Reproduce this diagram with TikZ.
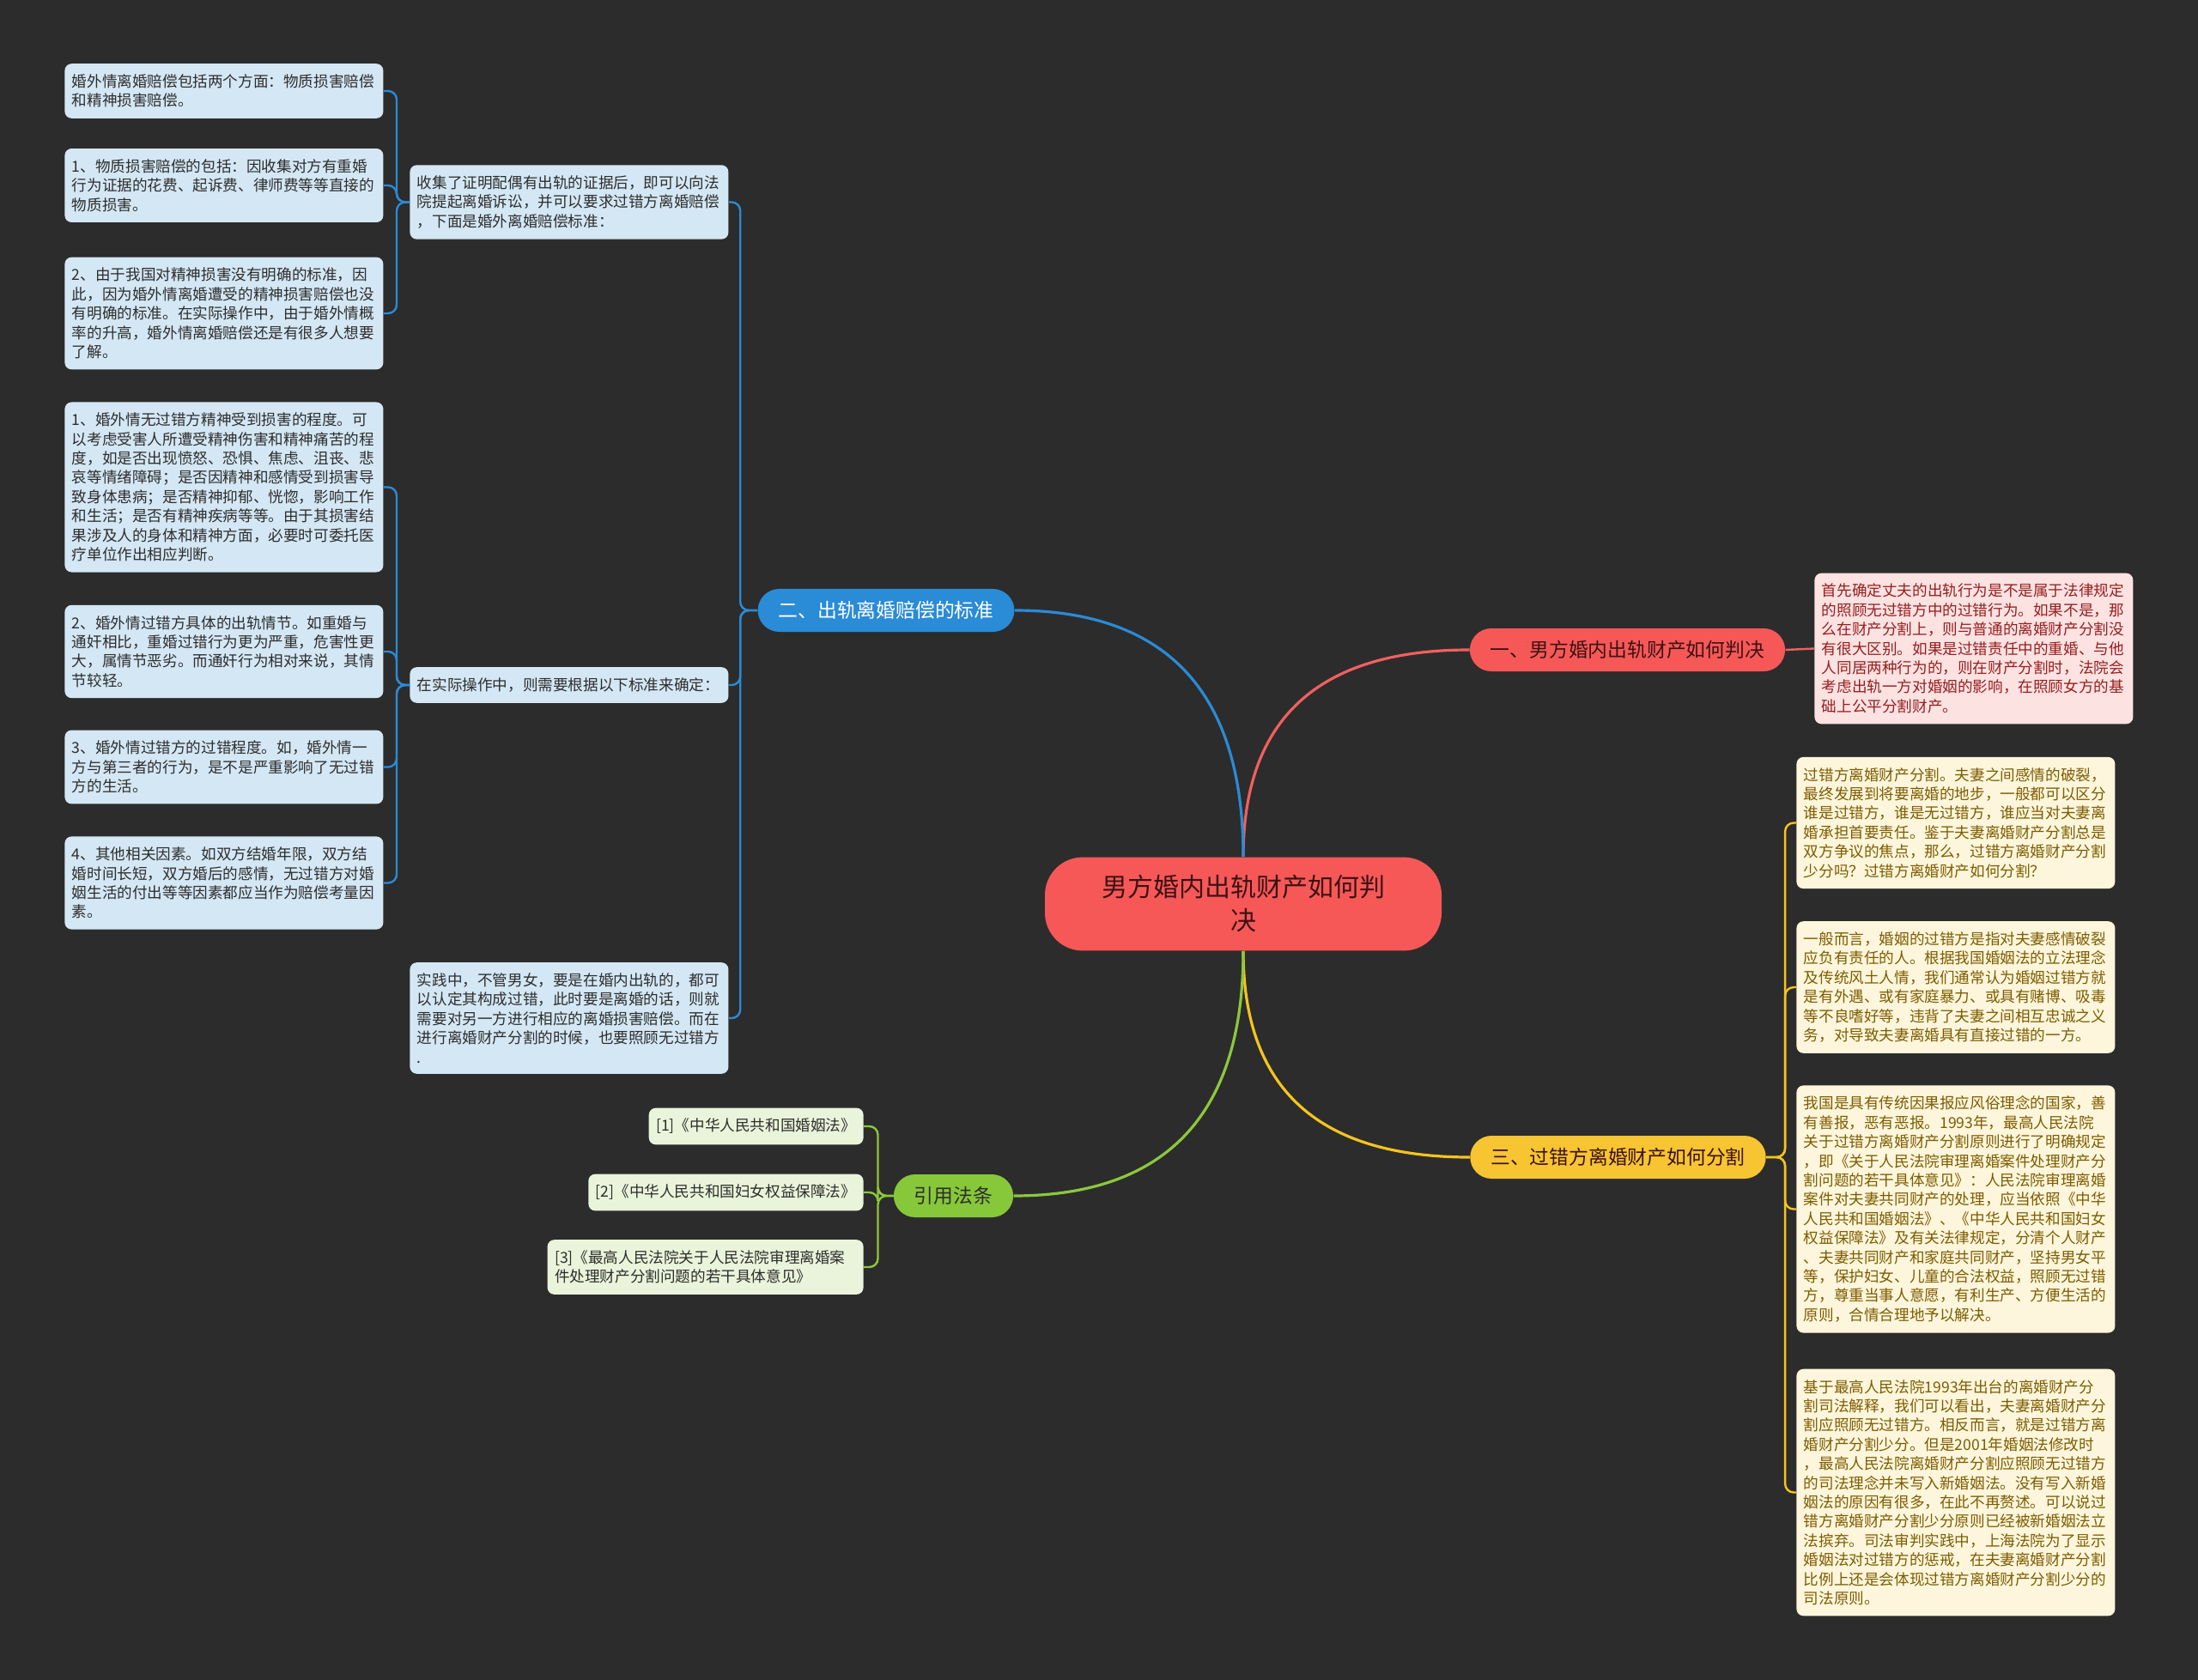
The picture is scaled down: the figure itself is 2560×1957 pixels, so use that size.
\documentclass[tikz,border=0pt]{standalone}
\usepackage{fontspec}
\setmainfont{Noto Sans CJK SC}
\usetikzlibrary{calc}
\definecolor{bgdark}{RGB}{44,44,44}
\definecolor{rootred}{RGB}{246,88,88}
\definecolor{roottext}{RGB}{60,18,18}
\definecolor{topicblue}{RGB}{42,139,214}
\definecolor{topicyellow}{RGB}{247,196,50}
\definecolor{topicgreen}{RGB}{134,200,58}
\definecolor{lineblue}{RGB}{42,139,214}
\definecolor{linered}{RGB}{240,96,96}
\definecolor{lineyellow}{RGB}{245,196,30}
\definecolor{linegreen}{RGB}{140,200,60}
\definecolor{fillblue}{RGB}{212,231,244}
\definecolor{fillred}{RGB}{253,226,226}
\definecolor{fillyellow}{RGB}{253,246,220}
\definecolor{fillgreen}{RGB}{234,244,218}
\definecolor{textdark}{RGB}{45,45,45}
\definecolor{textred}{RGB}{150,30,30}
\definecolor{textolive}{RGB}{125,92,0}

\begin{document}
\begin{tikzpicture}[x=0.5pt,y=-0.5pt,
  leafbase/.style={rounded corners=4pt,inner xsep=4.25pt,inner ysep=6.2pt,text width=177pt,align=left,font=\fontsize{8.8pt}{11.2pt}\selectfont},
  bluebox/.style={leafbase,fill=fillblue,text=textdark,anchor=west},
  redbox/.style={leafbase,fill=fillred,text=textred,anchor=west},
  yellowbox/.style={leafbase,fill=fillyellow,text=textolive,anchor=west},
  greenbox/.style={leafbase,text width=,fill=fillgreen,text=textdark,anchor=east},
  topicbox/.style={rounded corners=12.5pt,minimum height=25pt,inner xsep=12pt,inner ysep=2pt,font=\fontsize{11.4pt}{13pt}\selectfont},
  conn/.style={line width=1.6pt},
  subconn/.style={line width=1.2pt,rounded corners=5pt}]
\fill[bgdark] (0,0) rectangle (2560,1957);
\useasboundingbox (0,0) rectangle (2560,1957);

% root and main topics
\node[fill=rootred,text=roottext,rounded corners=22pt,text width=166pt,align=center,inner xsep=32.5pt,inner ysep=10.5pt,font=\fontsize{15pt}{19.5pt}\selectfont] (root) at (1448,1053) {男方婚内出轨财产如何判\\决};
\node[topicbox,fill=rootred,text=roottext] (topic1) at (1895.5,757) {一、男方婚内出轨财产如何判决};
\node[topicbox,fill=topicblue,text=white] (topic2) at (1032,711) {二、出轨离婚赔偿的标准};
\node[topicbox,fill=topicyellow,text=roottext] (topic3) at (1884.5,1348) {三、过错方离婚财产如何分割};
\node[topicbox,fill=topicgreen,text=textdark] (topic4) at (1110.5,1393) {引用法条};

\draw[conn,linered] (root.north) .. controls +(0,-161) and +(-176,0) .. (topic1.west);
\draw[conn,lineblue] (root.north) .. controls +(0,-192) and +(177,0) .. (topic2.east);
\draw[conn,lineyellow] (root.south) .. controls +(0,161) and +(-176,0) .. (topic3.west);
\draw[conn,linegreen] (root.south) .. controls +(0,191) and +(177,0) .. (topic4.east);

% branch one
\node[redbox] (red1) at (2113,755.5) {首先确定丈夫的出轨行为是不是属于法律规定\\的照顾无过错方中的过错行为。如果不是，那\\么在财产分割上，则与普通的离婚财产分割没\\有很大区别。如果是过错责任中的重婚、与他\\人同居两种行为的，则在财产分割时，法院会\\考虑出轨一方对婚姻的影响，在照顾女方的基\\础上公平分割财产。};
\draw[subconn,linered] (topic1.east) -- (red1.west);

% branch two
\node[bluebox] (m1) at (477,235.5) {收集了证明配偶有出轨的证据后，即可以向法\\院提起离婚诉讼，并可以要求过错方离婚赔偿\\，下面是婚外离婚赔偿标准：};
\node[bluebox] (m2) at (477,798) {在实际操作中，则需要根据以下标准来确定：};
\node[bluebox] (m3) at (477,1186) {实践中，不管男女，要是在婚内出轨的，都可\\以认定其构成过错，此时要是离婚的话，则就\\需要对另一方进行相应的离婚损害赔偿。而在\\进行离婚财产分割的时候，也要照顾无过错方\\.};
\node[bluebox] (l1) at (75,106) {婚外情离婚赔偿包括两个方面：物质损害赔偿\\和精神损害赔偿。};
\node[bluebox] (l2) at (75,216) {1、物质损害赔偿的包括：因收集对方有重婚\\行为证据的花费、起诉费、律师费等等直接的\\物质损害。};
\node[bluebox] (l3) at (75,365) {2、由于我国对精神损害没有明确的标准，因\\此，因为婚外情离婚遭受的精神损害赔偿也没\\有明确的标准。在实际操作中，由于婚外情概\\率的升高，婚外情离婚赔偿还是有很多人想要\\了解。};
\node[bluebox] (l4) at (75,567.5) {1、婚外情无过错方精神受到损害的程度。可\\以考虑受害人所遭受精神伤害和精神痛苦的程\\度，如是否出现愤怒、恐惧、焦虑、沮丧、悲\\哀等情绪障碍；是否因精神和感情受到损害导\\致身体患病；是否精神抑郁、恍惚，影响工作\\和生活；是否有精神疾病等等。由于其损害结\\果涉及人的身体和精神方面，必要时可委托医\\疗单位作出相应判断。};
\node[bluebox] (l5) at (75,759) {2、婚外情过错方具体的出轨情节。如重婚与\\通奸相比，重婚过错行为更为严重，危害性更\\大，属情节恶劣。而通奸行为相对来说，其情\\节较轻。};
\node[bluebox] (l6) at (75,893.5) {3、婚外情过错方的过错程度。如，婚外情一\\方与第三者的行为，是不是严重影响了无过错\\方的生活。};
\node[bluebox] (l7) at (75,1028.5) {4、其他相关因素。如双方结婚年限，双方结\\婚时间长短，双方婚后的感情，无过错方对婚\\姻生活的付出等等因素都应当作为赔偿考量因\\素。};
\foreach \leaf in {m1,m2,m3}
  \draw[subconn,lineblue] (topic2.west) -- ++(-20,0) |- (\leaf.east);
\foreach \leaf in {l1,l2,l3}
  \draw[subconn,lineblue] (m1.west) -- ++(-15,0) |- (\leaf.east);
\foreach \leaf in {l4,l5,l6,l7}
  \draw[subconn,lineblue] (m2.west) -- ++(-15,0) |- (\leaf.east);

% branch three
\node[yellowbox] (y1) at (2092,958.5) {过错方离婚财产分割。夫妻之间感情的破裂，\\最终发展到将要离婚的地步，一般都可以区分\\谁是过错方，谁是无过错方，谁应当对夫妻离\\婚承担首要责任。鉴于夫妻离婚财产分割总是\\双方争议的焦点，那么，过错方离婚财产分割\\少分吗？过错方离婚财产如何分割？};
\node[yellowbox] (y2) at (2092,1150) {一般而言，婚姻的过错方是指对夫妻感情破裂\\应负有责任的人。根据我国婚姻法的立法理念\\及传统风土人情，我们通常认为婚姻过错方就\\是有外遇、或有家庭暴力、或具有赌博、吸毒\\等不良嗜好等，违背了夫妻之间相互忠诚之义\\务，对导致夫妻离婚具有直接过错的一方。};
\node[yellowbox] (y3) at (2092,1408.5) {我国是具有传统因果报应风俗理念的国家，善\\有善报，恶有恶报。1993年，最高人民法院\\关于过错方离婚财产分割原则进行了明确规定\\，即《关于人民法院审理离婚案件处理财产分\\割问题的若干具体意见》：人民法院审理离婚\\案件对夫妻共同财产的处理，应当依照《中华\\人民共和国婚姻法》、《中华人民共和国妇女\\权益保障法》及有关法律规定，分清个人财产\\、夫妻共同财产和家庭共同财产，坚持男女平\\等，保护妇女、儿童的合法权益，照顾无过错\\方，尊重当事人意愿，有利生产、方便生活的\\原则，合情合理地予以解决。};
\node[yellowbox] (y4) at (2092,1738.5) {基于最高人民法院1993年出台的离婚财产分\\割司法解释，我们可以看出，夫妻离婚财产分\\割应照顾无过错方。相反而言，就是过错方离\\婚财产分割少分。但是2001年婚姻法修改时\\，最高人民法院离婚财产分割应照顾无过错方\\的司法理念并未写入新婚姻法。没有写入新婚\\姻法的原因有很多，在此不再赘述。可以说过\\错方离婚财产分割少分原则已经被新婚姻法立\\法摈弃。司法审判实践中，上海法院为了显示\\婚姻法对过错方的惩戒，在夫妻离婚财产分割\\比例上还是会体现过错方离婚财产分割少分的\\司法原则。};
\foreach \leaf in {y1,y2,y3,y4}
  \draw[subconn,lineyellow] (topic3.east) -- ++(22,0) |- (\leaf.west);

% branch four
\node[greenbox] (r1) at (1006,1312) {[1]《中华人民共和国婚姻法》};
\node[greenbox] (r2) at (1006,1389) {[2]《中华人民共和国妇女权益保障法》};
\node[greenbox,text width=175.5pt] (r3) at (1006,1476) {[3]《最高人民法院关于人民法院审理离婚案\\件处理财产分割问题的若干具体意见》};
\foreach \leaf in {r1,r2,r3}
  \draw[subconn,linegreen] (topic4.west) -- ++(-18,0) |- (\leaf.east);
\end{tikzpicture}
\end{document}
